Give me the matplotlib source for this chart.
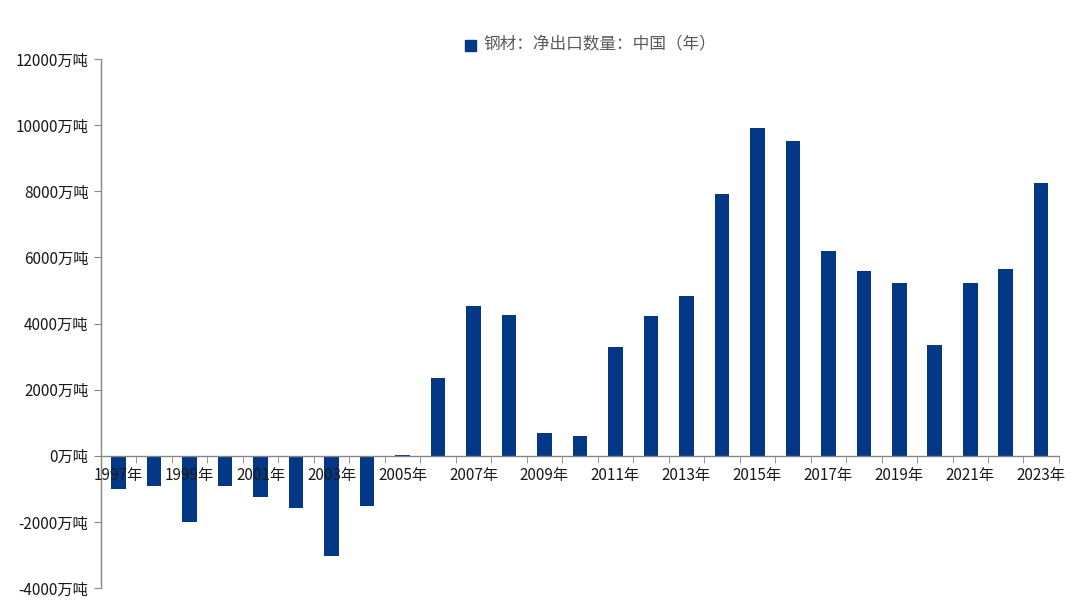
import matplotlib
matplotlib.use("Agg")
import matplotlib.pyplot as plt
import numpy as np
from matplotlib.patches import Rectangle

plt.rcParams['font.family'] = ['Noto Sans CJK SC', 'DejaVu Sans']

years = list(range(1997, 2024))
values = [-1000, -900, -2000, -900, -1240, -1580, -3030, -1510, 30,
          2340, 4530, 4250, 680, 610, 3300, 4220, 4830, 7930, 9920,
          9520, 6200, 5590, 5240, 3360, 5220, 5650, 8240]
yticks = [-4000, -2000, 0, 2000, 4000, 6000, 8000, 10000, 12000]
legend_label = '钢材：净出口数量：中国（年）'

bar_color = '#023885'
axis_color = '#868686'

fig = plt.figure(figsize=(10.8, 6.09), dpi=100)
ax = fig.add_axes([0.0935, 0.0345, 0.887, 0.8686])

x = np.arange(len(years))
ax.bar(x, values, width=0.41, color=bar_color, zorder=1)
ax.set_axisbelow(False)
ax.xaxis.set_zorder(5)

ax.set_xlim(-0.5, len(years) - 0.5)
ax.set_ylim(-4000, 12000)

ax.spines['top'].set_visible(False)
ax.spines['right'].set_visible(False)
ax.spines['bottom'].set_position(('data', 0))
for s in ('left', 'bottom'):
    ax.spines[s].set_color(axis_color)
    ax.spines[s].set_linewidth(1.0)
ax.spines['bottom'].set_zorder(4)

ax.set_yticks(yticks)
ax.set_yticklabels([f'{v}万吨' for v in yticks])
ax.tick_params(axis='y', direction='out', length=5, color=axis_color,
               labelsize=11, labelcolor='#1a1a1a', pad=4)

ax.set_xticks(x[::2])
ax.set_xticklabels([f'{y}年' for y in years[::2]])
ax.set_xticks(np.arange(len(years) + 1) - 0.5, minor=True)
ax.tick_params(axis='x', which='major', length=0, labelsize=11,
               labelcolor='#1a1a1a', pad=8)
ax.tick_params(axis='x', which='minor', direction='out', length=5,
               color=axis_color)

# legend
fig.patches.append(Rectangle((465 / 1080, 1 - 51 / 609), 11 / 1080, 11 / 609,
                             transform=fig.transFigure, color=bar_color))
fig.text(483 / 1080, 1 - 45 / 609, legend_label, fontsize=12,
         color='#595959', va='center', ha='left')

fig.savefig('out.png', dpi=100)
